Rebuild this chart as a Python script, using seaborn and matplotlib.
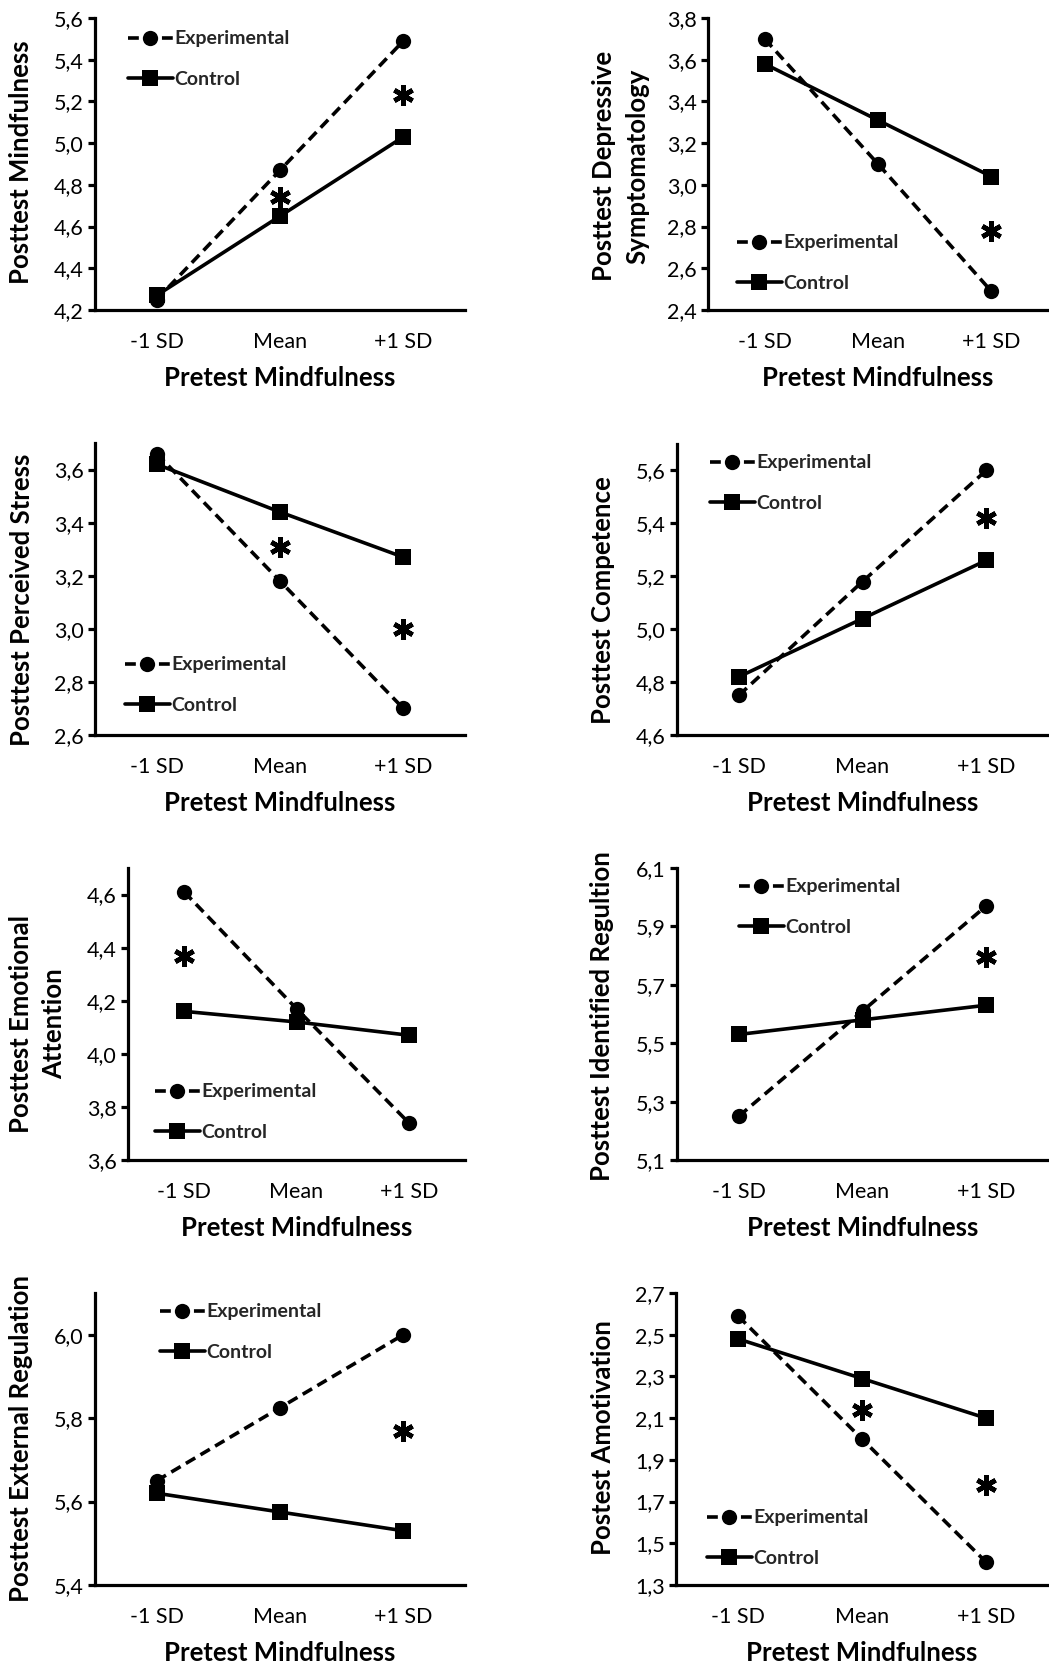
import numpy as np
import pandas as pd
import matplotlib
matplotlib.use("Agg")
import matplotlib.pyplot as plt
from matplotlib.ticker import FuncFormatter, FixedLocator
import seaborn as sns

# ---------------- data ----------------
categories = ["-1 SD", "Mean", "+1 SD"]
groups = ["Experimental", "Control"]
xlabel = "Pretest Mindfulness"

ylabels = [
    "Posttest Mindfulness",
    "Posttest Depressive\nSymptomatology",
    "Posttest Perceived Stress",
    "Posttest Competence",
    "Posttest Emotional\nAttention",
    "Posttest Identified Regultion",
    "Posttest External Regulation",
    "Postest Amotivation",
]

exp_mindfulness = [4.25, 4.87, 5.49]
ctl_mindfulness = [4.27, 4.65, 5.03]
exp_depressive = [3.70, 3.10, 2.49]
ctl_depressive = [3.58, 3.31, 3.04]
exp_stress = [3.66, 3.18, 2.70]
ctl_stress = [3.62, 3.44, 3.27]
exp_competence = [4.75, 5.18, 5.60]
ctl_competence = [4.82, 5.04, 5.26]
exp_attention = [4.61, 4.17, 3.74]
ctl_attention = [4.16, 4.12, 4.07]
exp_identified = [5.25, 5.61, 5.97]
ctl_identified = [5.53, 5.58, 5.63]
exp_external = [5.65, 5.825, 6.00]
ctl_external = [5.62, 5.575, 5.53]
exp_amotivation = [2.59, 2.00, 1.41]
ctl_amotivation = [2.48, 2.29, 2.10]

exp_values = [exp_mindfulness, exp_depressive, exp_stress, exp_competence,
              exp_attention, exp_identified, exp_external, exp_amotivation]
ctl_values = [ctl_mindfulness, ctl_depressive, ctl_stress, ctl_competence,
              ctl_attention, ctl_identified, ctl_external, ctl_amotivation]

# significance asterisks: (category index, y value)
stars = [
    [(1, 4.74), (2, 5.23)],
    [(2, 2.78)],
    [(1, 3.31), (2, 3.00)],
    [(2, 5.42)],
    [(0, 4.37)],
    [(2, 5.795)],
    [(2, 5.77)],
    [(1, 2.14), (2, 1.78)],
]

# y axis ranges and tick values
ylims = [(4.2, 5.6), (2.4, 3.8), (2.6, 3.7), (4.6, 5.7),
         (3.6, 4.7), (5.1, 6.1), (5.4, 6.1), (1.3, 2.7)]
yticks = [
    [4.2, 4.4, 4.6, 4.8, 5.0, 5.2, 5.4, 5.6],
    [2.4, 2.6, 2.8, 3.0, 3.2, 3.4, 3.6, 3.8],
    [2.6, 2.8, 3.0, 3.2, 3.4, 3.6],
    [4.6, 4.8, 5.0, 5.2, 5.4, 5.6],
    [3.6, 3.8, 4.0, 4.2, 4.4, 4.6],
    [5.1, 5.3, 5.5, 5.7, 5.9, 6.1],
    [5.4, 5.6, 5.8, 6.0],
    [1.3, 1.5, 1.7, 1.9, 2.1, 2.3, 2.5, 2.7],
]

# ---------------- layout (pixels) ----------------
W, H = 1049, 1670
# axes rect: left, top, right, bottom
rects = [(95, 18, 465, 310), (708, 18, 1048, 310),
         (95, 443, 465, 735), (677, 444, 1048, 735),
         (128, 868, 465, 1160), (677, 868, 1048, 1160),
         (95, 1293, 465, 1585), (676, 1293, 1048, 1585)]
# ylabel centre (x, y)
ylab_pos = [(21, 162), (621, 166), (22, 600), (603, 600),
            (38, 1024), (602, 1016), (21, 1438), (603, 1438)]
# legend: handle start x, centre y between the two rows
leg_pos = [(128, 59), (737, 263), (125, 685), (710, 483),
           (155, 1112), (739, 907), (160, 1332), (707, 1538)]

sns.set_theme(style="ticks")
plt.rcParams["font.family"] = ["Lato", "DejaVu Sans"]

LW = 2.6
AX_LW = 2.3
fig = plt.figure(figsize=(W / 100, H / 100), dpi=100)

comma = FuncFormatter(lambda v, p: f"{v:.1f}".replace(".", ","))

for i in range(8):
    l, t, r, b = rects[i]
    ax = fig.add_axes([l / W, 1 - b / H, (r - l) / W, (b - t) / H])
    df = pd.DataFrame({
        "pos": list(range(3)) * 2,
        "value": list(exp_values[i]) + list(ctl_values[i]),
        "group": [groups[0]] * 3 + [groups[1]] * 3,
    })
    sns.lineplot(data=df, x="pos", y="value", style="group", style_order=groups,
                 markers={"Experimental": "o", "Control": "s"},
                 dashes={"Experimental": (3.0, 1.7), "Control": ""},
                 color="black", linewidth=LW, markersize=11,
                 markeredgewidth=0, legend=False, sort=False,
                 estimator=None, ax=ax)
    for ln in ax.lines:
        if ln.get_marker() == "s":
            ln.set_markersize(11.5)
            ln.set_zorder(3)
        else:
            ln.set_zorder(2)

    sx = [s[0] for s in stars[i]]
    sy = [s[1] for s in stars[i]]
    ax.plot(sx, sy, linestyle="none", marker=(6, 2, 0), markersize=15,
            markeredgewidth=3.4, color="black", zorder=4)

    ax.set_xlim(-0.5, 2.5)
    ax.set_ylim(*ylims[i])
    ax.yaxis.set_major_locator(FixedLocator(yticks[i]))
    ax.yaxis.set_major_formatter(comma)
    ax.set_xticks([0, 1, 2])
    ax.set_xticklabels(categories)
    for side in ["top", "right"]:
        ax.spines[side].set_visible(False)
    for side in ["left", "bottom"]:
        ax.spines[side].set_linewidth(AX_LW)
        ax.spines[side].set_color("black")
    ax.tick_params(axis="y", direction="out", length=5, width=AX_LW, pad=3,
                   labelsize=15.5, colors="black")
    ax.tick_params(axis="x", length=0, pad=16, labelsize=15.5, colors="black")
    ax.set_facecolor("white")

    ax.set_xlabel(xlabel, fontsize=18.5, fontweight="bold", color="black")
    ax.xaxis.set_label_coords(0.5, -68 / (b - t))
    ax.xaxis.label.set_va("center")

    ax.set_ylabel(ylabels[i], fontsize=18.5, fontweight="bold", color="black",
                  linespacing=1.45)
    yx, yy = ylab_pos[i]
    ax.yaxis.set_label_coords(yx / W, 1 - yy / H, transform=fig.transFigure)
    ax.yaxis.label.set_va("center")
    ax.yaxis.label.set_ha("center")

    handles, labels = [], []
    for g, m in zip(groups, ["o", "s"]):
        for ln in ax.lines:
            if ln.get_marker() == m:
                handles.append(ln)
                labels.append(g)
                break
    lx, ly = leg_pos[i]
    ax.legend(handles, labels, loc="center left",
              bbox_to_anchor=(lx / W, 1 - ly / H), bbox_transform=fig.transFigure,
              frameon=False, borderpad=0, borderaxespad=0, handlelength=2.3,
              handletextpad=0.1, labelspacing=1.2,
              prop={"size": 14, "weight": "bold"})

fig.savefig("out.png", dpi=100, facecolor="white")
